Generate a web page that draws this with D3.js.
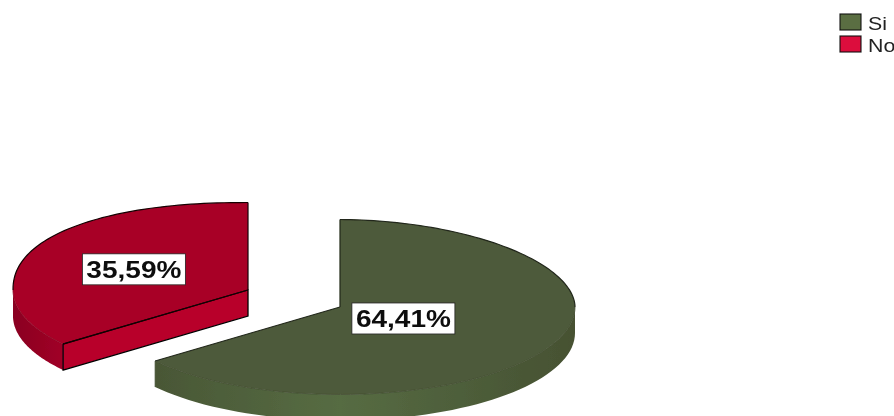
<!DOCTYPE html>
<html>
<head>
<meta charset="utf-8">
<script src="https://cdn.jsdelivr.net/npm/d3@7"></script>
<style>
  html, body { margin: 0; padding: 0; background: #fff; overflow: hidden; }
  svg { display: block; }
  text { font-family: "Liberation Sans", Arial, sans-serif; }
</style>
</head>
<body>
<div id="chart"></div>
<script>
// chart data
var categories = ["Si", "No"];
var percents = [64.41, 35.59];
var valueLabels = ["64,41%", "35,59%"];

// per slice look and placement
var centers = [[340, 307], [248, 290]];
var labelRadius = [0.3, 0.54];
var backRimPower = [1.05, 0.9]; // the back of the slices is not a true ellipse
var topColors = ["#4e5a3a", "#a80028"];
var legendColors = ["#5a6e42", "#dc0a3c"];
var faceColor = "#b8002c";
var edgeColors = ["#20261a", "#140004"];
var softEdgeColors = ["#3f4a2e", "#8a0020"];
var wallStops = [
  ["#465132", "#566c43", "#465132"],
  ["#8a0020", "#a50028", "#b0002a"]
];

var width = 894, height = 416;
var rx = 235, ry = 87.5, depth = 26;
var HALF = Math.PI / 2, BACK = 1.5 * Math.PI;

var svg = d3.select("#chart").append("svg")
  .attr("width", width)
  .attr("height", height);

var defs = svg.append("defs");
defs.append("filter").attr("id", "soft")
  .append("feGaussianBlur").attr("stdDeviation", 0.5);

var root = svg.append("g").attr("filter", "url(#soft)");

var pie = d3.pie().sort(null).value(function(d) { return d; });
var slices = pie(percents);

var rimX = d3.scaleLinear().domain([-1, 1]).range([-rx, rx]);
var rimY = d3.scaleLinear().domain([-1, 1]).range([-ry, ry]);

function signedPow(v, e) {
  return (v < 0 ? -1 : 1) * Math.pow(Math.abs(v), e);
}

// point on the rim, angle from 12 o'clock going clockwise
function rim(angle, power) {
  var e = power || 1;
  return [rimX(signedPow(Math.sin(angle), e)), rimY(-signedPow(Math.cos(angle), e))];
}

function rimPoints(a0, a1, power) {
  var n = 60, pts = [];
  for (var i = 0; i <= n; i++) {
    pts.push(rim(a0 + (a1 - a0) * i / n, power));
  }
  return pts;
}

function drawLine(g, pts, color, w) {
  g.append("path")
    .attr("d", d3.line()(pts))
    .attr("fill", "none")
    .attr("stroke", color)
    .attr("stroke-width", w);
}

slices.forEach(function(s, i) {
  var c = centers[i];
  var g = root.append("g").attr("transform", "translate(" + c[0] + "," + c[1] + ")");

  // split the rim into the part facing us and the part facing away
  var front = rimPoints(Math.max(s.startAngle, HALF), Math.min(s.endAngle, BACK));
  var back = i == 0
    ? rimPoints(s.startAngle, HALF, backRimPower[i])
    : rimPoints(BACK, s.endAngle, backRimPower[i]);
  var outline = i == 0 ? back.concat(front) : front.concat(back);

  var grad = defs.append("linearGradient")
    .attr("id", "wall" + i)
    .attr("gradientUnits", "userSpaceOnUse")
    .attr("x1", -rx).attr("x2", i == 1 ? -rx + 120 : rx)
    .attr("y1", 0).attr("y2", 0);
  wallStops[i].forEach(function(col, k) {
    grad.append("stop").attr("offset", k / 2).attr("stop-color", col);
  });

  // side wall under the front rim
  var lower = front.map(function(p) { return [p[0], p[1] + depth]; }).reverse();
  g.append("path")
    .attr("d", d3.line()(front.concat(lower)) + "Z")
    .attr("fill", "url(#wall" + i + ")");

  // top face
  g.append("path")
    .attr("d", d3.line()([[0, 0]].concat(outline)) + "Z")
    .attr("fill", topColors[i]);

  // cut face of the exploded slice, seen from the front
  var cutEnd = i == 0 ? rim(s.endAngle) : rim(s.startAngle);
  if (i == 1) {
    g.append("path")
      .attr("d", d3.line()([[0, 0], cutEnd, [cutEnd[0], cutEnd[1] + depth], [0, depth]]) + "Z")
      .attr("fill", faceColor)
      .attr("stroke", "#000")
      .attr("stroke-width", 1.3);
  }

  // front rim is faint, the back rim and the cuts are dark
  drawLine(g, front, softEdgeColors[i], 0.8);
  drawLine(g, back, edgeColors[i], 1.2);
  drawLine(g, [[0, 0], cutEnd], edgeColors[i], 1.2);
  drawLine(g, [[0, 0], rim(0)], edgeColors[i], 1.2);
  if (i == 0) {
    drawLine(g, [cutEnd, [cutEnd[0], cutEnd[1] + depth]], softEdgeColors[i], 0.8);
  }
});

// value labels on top of everything
slices.forEach(function(s, i) {
  var c = centers[i];
  var pos = rim((s.startAngle + s.endAngle) / 2);
  var lx = c[0] + pos[0] * labelRadius[i];
  var ly = c[1] + pos[1] * labelRadius[i];
  root.append("rect")
    .attr("x", lx - 51.5).attr("y", ly - 15.5)
    .attr("width", 103).attr("height", 31)
    .attr("fill", "#fff")
    .attr("stroke", "#222")
    .attr("stroke-width", 0.8);
  root.append("text")
    .attr("x", lx - 47.5).attr("y", ly + 8.5)
    .attr("font-size", 24)
    .attr("font-weight", "bold")
    .attr("fill", "#111")
    .attr("textLength", 95)
    .attr("lengthAdjust", "spacingAndGlyphs")
    .text(valueLabels[i]);
});

// legend
var legendY = d3.scalePoint().domain(categories).range([14, 36]);
var legend = root.selectAll("g.legend-item")
  .data(categories)
  .enter().append("g")
  .attr("class", "legend-item")
  .attr("transform", function(d) { return "translate(840," + legendY(d) + ")"; });

legend.append("rect")
  .attr("width", 21).attr("height", 16)
  .attr("fill", function(d, i) { return legendColors[i]; })
  .attr("stroke", "#111")
  .attr("stroke-width", 1.1);

legend.append("text")
  .attr("transform", "translate(28,16) scale(1.22,1)")
  .attr("font-size", 17.5)
  .attr("fill", "#222")
  .text(function(d) { return d; });
</script>
</body>
</html>
